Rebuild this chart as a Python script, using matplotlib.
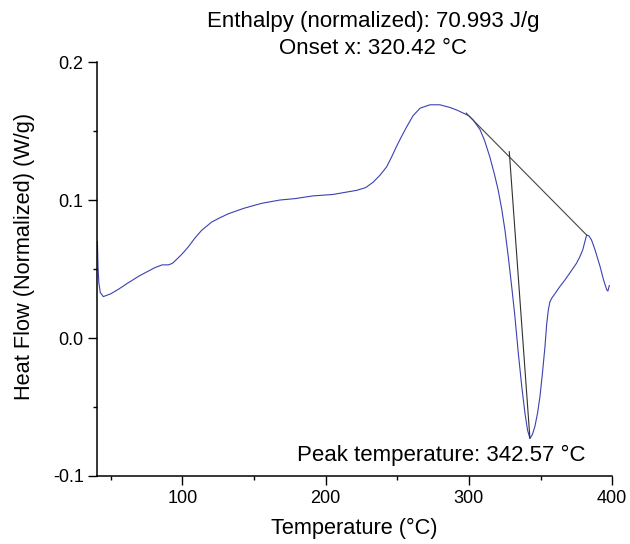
import numpy as np
from matplotlib import pyplot as plt

plt.rcParams['font.family'] = ['Liberation Sans', 'DejaVu Sans']

# Curva DSC (temperatura en C, flujo en W/g)
temperatura = [40.8, 41.2, 41.8, 42.8, 44.9, 50, 55, 62.3, 70, 80.9, 86, 90.2, 93, 96.1,
               100, 104.2, 108.5, 113.5, 120.5, 126, 132.1, 143, 155.4, 168.2, 178.6,
               191.4, 205, 221.7, 228, 233.3, 238, 242.6, 246, 249.6, 253, 256.6, 261,
               265.9, 270, 272.9, 279.8, 287, 292, 296.1, 300, 303, 307.8, 311, 314.7,
               318, 320.5, 323, 325.2, 327.5, 329.9, 332, 334.5, 337, 339.2, 341, 342.6,
               344.3, 346.1, 348, 349.6, 351.3, 353.1, 354.3, 355.4, 356.5, 357.8, 360,
               363.3, 367, 371.7, 375, 377.5, 379.5, 381, 382.2, 383.8, 385.6, 388, 391.5,
               394, 396.2, 397, 398]
flujo = [0.070, 0.052, 0.040, 0.033, 0.030, 0.032, 0.035, 0.040, 0.045, 0.051, 0.053, 0.053,
         0.054, 0.057, 0.061, 0.066, 0.072, 0.078, 0.084, 0.087, 0.090, 0.094, 0.0976, 0.100,
         0.101, 0.103, 0.104, 0.107, 0.109, 0.113, 0.118, 0.124, 0.131, 0.139, 0.146, 0.153,
         0.161, 0.1665, 0.168, 0.169, 0.169, 0.167, 0.165, 0.163, 0.161, 0.158, 0.151, 0.143,
         0.131, 0.118, 0.107, 0.093, 0.078, 0.059, 0.037, 0.017, -0.011, -0.036, -0.055,
         -0.067, -0.0727, -0.070, -0.064, -0.054, -0.0425, -0.026, -0.0063, 0.010, 0.020,
         0.026, 0.0288, 0.032, 0.037, 0.042, 0.049, 0.054, 0.059, 0.064, 0.070, 0.0746,
         0.074, 0.071, 0.064, 0.052, 0.042, 0.035, 0.034, 0.038]

# Linea base de integracion y linea del pico
base_x = [298.1, 382.2]
base_y = [0.163, 0.0746]
pico_x = [328.2, 342.6]
pico_y = [0.135, -0.0727]

entalpia = 70.993
onset = 320.42
t_pico = 342.57

fig = plt.figure(figsize=(6.3, 5.44), dpi=100)
ax = fig.add_axes([0.1544, 0.125, 0.8173, 0.761])

ax.plot(temperatura, flujo, color='#3a42b0', linewidth=0.8)
ax.plot(base_x, base_y, color='#454545', linewidth=0.8)
ax.plot(pico_x, pico_y, color='#303030', linewidth=0.8)

ax.set_xlim(40.7, 400)
ax.set_ylim(-0.1, 0.2)
ax.set_xticks([100, 200, 300, 400])
ax.set_xticks([50, 150, 250, 350], minor=True)
ax.set_yticks([-0.1, 0.0, 0.1, 0.2])
ax.set_yticks([-0.05, 0.05, 0.15], minor=True)
ax.set_yticklabels(['-0.1', '0.0', '0.1', '0.2'])

for lado in ['top', 'right']:
    ax.spines[lado].set_visible(False)
for lado in ['left', 'bottom']:
    ax.spines[lado].set_linewidth(1.1)

ax.tick_params(which='major', direction='out', length=6.3, width=1.0, labelsize=13, pad=3.5)
ax.tick_params(which='minor', direction='out', length=2.8, width=1.0)

ax.set_xlabel('Temperature (°C)', fontsize=15.7)
ax.xaxis.label.set_va('center')
ax.xaxis.set_label_coords(0.5, -0.1256)
ax.set_ylabel('Heat Flow (Normalized) (W/g)', fontsize=15.7)
ax.yaxis.label.set_va('center')
ax.yaxis.set_label_coords(-0.1404, 0.531)

ax.text(233, 0.229, 'Enthalpy (normalized): %.3f J/g' % entalpia, fontsize=16,
        ha='center', va='center', clip_on=False)
ax.text(233, 0.2101, 'Onset x: %.2f °C' % onset, fontsize=16,
        ha='center', va='center', clip_on=False)
ax.text(280.6, -0.0848, 'Peak temperature: %.2f °C' % t_pico, fontsize=16,
        ha='center', va='center', clip_on=False)

plt.savefig('out.png', dpi=100)
